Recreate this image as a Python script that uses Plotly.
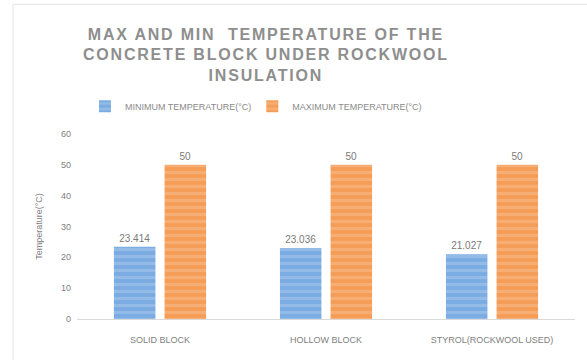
import plotly.graph_objects as go

categories = ["SOLID BLOCK", "HOLLOW BLOCK", "STYROL(ROCKWOOL USED)"]
min_temp = [23.414, 23.036, 21.027]
max_temp = [50, 50, 50]
series_names = ["MINIMUM TEMPERATURE(°C)", "MAXIMUM TEMPERATURE(°C)"]
y_ticks = [0, 10, 20, 30, 40, 50, 60]

FONT = "Liberation Sans Narrow, Liberation Sans, Arial, sans-serif"
GRAY = "#8c8c8c"

fig = go.Figure()
fig.add_trace(go.Bar(
    x=categories, y=min_temp, name=series_names[0], legend="legend",
    marker=dict(color="#7aace3", line=dict(width=0),
                pattern=dict(shape="-", fgcolor="#a9c9ee", bgcolor="#7aace3",
                             size=7, solidity=0.45)),
    text=[f"{v:g}" for v in min_temp], textposition="outside",
    textfont=dict(size=10, color="#7a7a7a", family=FONT), cliponaxis=False,
))
fig.add_trace(go.Bar(
    x=categories, y=max_temp, name=series_names[1], legend="legend2",
    marker=dict(color="#f59d57", line=dict(width=0),
                pattern=dict(shape="-", fgcolor="#f9bf93", bgcolor="#f59d57",
                             size=7, solidity=0.45)),
    text=[f"{v:g}" for v in max_temp], textposition="outside",
    textfont=dict(size=10, color="#7a7a7a", family=FONT), cliponaxis=False,
))

legend_style = dict(
    orientation="h", xanchor="left", y=1.15, yanchor="middle",
    font=dict(family=FONT, size=9, color="#8a8a8a"),
    itemwidth=30, bgcolor="rgba(0,0,0,0)",
)

fig.update_layout(
    width=587, height=360,
    margin=dict(l=77, r=12, t=134, b=41),
    paper_bgcolor="white", plot_bgcolor="white",
    barmode="group", bargap=0.39, bargroupgap=0.18,
    title=dict(
        text="MAX AND MIN  TEMPERATURE OF THE<br>CONCRETE BLOCK UNDER ROCKWOOL<br>INSULATION",
        x=0.453, xanchor="center", y=0.89, yanchor="top",
        font=dict(family="Liberation Sans, Arial, sans-serif", size=16, color="#8e8e8e",
                  weight="bold"),
    ),
    legend=dict(x=0.016, **legend_style),
    legend2=dict(x=0.352, **legend_style),
    font=dict(family=FONT, color=GRAY),
    showlegend=True,
)
fig.update_xaxes(
    showgrid=False, showline=True, linecolor="#d9d9d9", linewidth=1,
    ticks="", ticklabelstandoff=12, tickfont=dict(size=9, color="#808080", family=FONT),
)
fig.update_yaxes(
    range=[0, 60], tickvals=y_ticks, showgrid=False, zeroline=False, showline=False,
    ticklabelstandoff=5,
    tickfont=dict(size=9, color="#808080", family=FONT),
    title=dict(text="Temperature(°C)", font=dict(size=9, color="#808080", family=FONT), standoff=16),
)
fig.add_shape(type="line", xref="paper", yref="paper",
              x0=(13 - 77) / 498, x1=(13 - 77) / 498, y0=-1, y1=(318.7 - 5) / 184.4,
              line=dict(color="#e3e3e3", width=1))
fig.add_shape(type="line", xref="paper", yref="paper",
              x0=(13 - 77) / 498, x1=(587 - 77) / 498, y0=(318.7 - 5) / 184.4, y1=(318.7 - 5) / 184.4,
              line=dict(color="#e3e3e3", width=1))

post = """
var fix = function(){
  document.querySelectorAll('.gtitle').forEach(function(el){ el.style.letterSpacing = '1.8px'; });
};
fix();
var gd = document.getElementsByClassName('plotly-graph-div')[0];
if (gd && gd.on) { gd.on('plotly_afterplot', fix); }
"""
fig.write_html("out.html", post_script=post)
